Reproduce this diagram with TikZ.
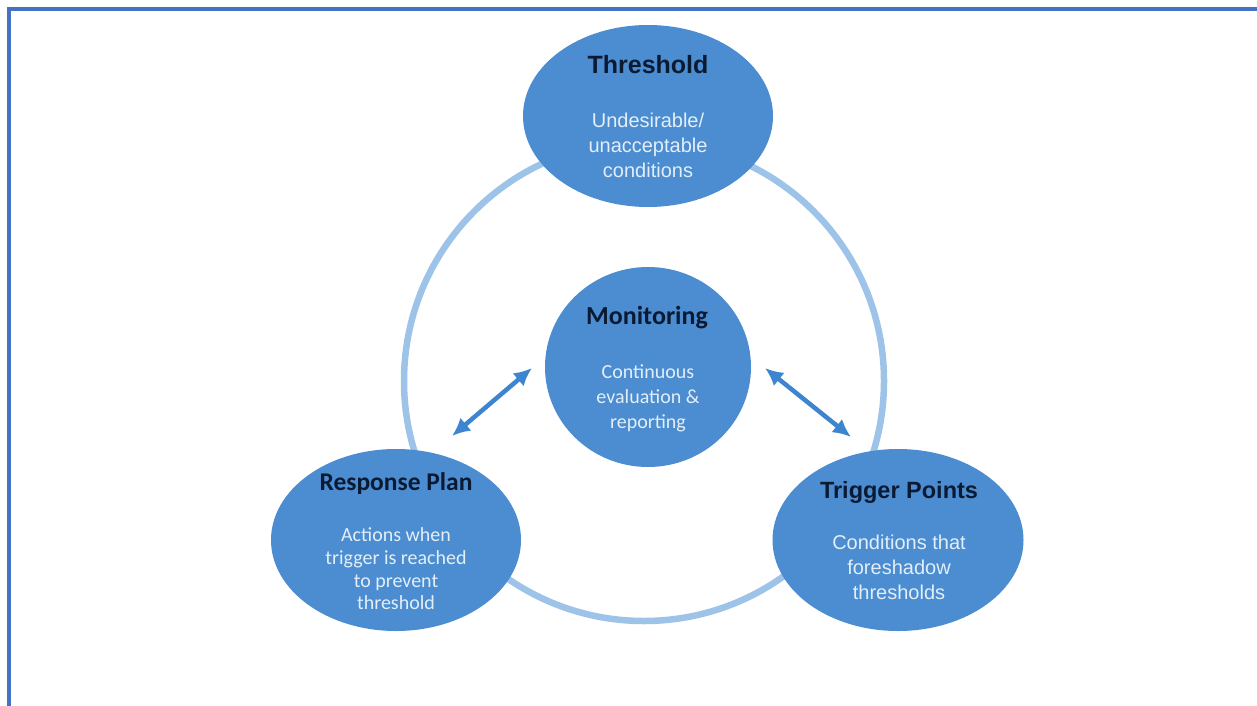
\documentclass[tikz,border=0pt]{standalone}
\usepackage{fontspec}
\setmainfont{Liberation Sans}
\newfontfamily\arialfont{Liberation Sans}
\newfontfamily\calfont{Carlito}
\usetikzlibrary{shapes.geometric,arrows.meta}

\definecolor{framecol}{HTML}{4472C4}
\definecolor{nodefill}{HTML}{4B8DD0}
\definecolor{ringcol}{HTML}{9DC3E8}
\definecolor{arrowcol}{HTML}{3D85CF}
\definecolor{titlecol}{HTML}{0B1A33}
\definecolor{bodycol}{HTML}{E3EEF9}

\begin{document}
\begin{tikzpicture}[x=1pt,y=-1pt,
  bubble/.style={ellipse, fill=nodefill, inner sep=0pt},
  ring/.style={draw=ringcol, line width=6.5pt},
  link/.style={draw=arrowcol, line width=4.5pt,
    {Latex[length=18pt,width=17pt]}-{Latex[length=18pt,width=17pt]}},
  ttlA/.style={text=titlecol, inner sep=0pt, align=center},
  bodyA/.style={text=bodycol, inner sep=0pt, align=center}
]
\useasboundingbox (0,0) rectangle (1257,706);
\fill[white] (0,0) rectangle (1257,706);

% frame along the top and left
\draw[framecol, line width=3.2pt] (9,706) -- (9,9) -- (1257,9);

% the cycle ring behind the three outer bubbles
\coordinate (ringc) at (644,381);
\draw[ring] (ringc) circle[radius=240];

% bubbles
\node[bubble, minimum width=250pt, minimum height=182pt] (thr) at (648,116) {};
\node[bubble, minimum width=206pt, minimum height=200pt] (mon) at (648,367) {};
\node[bubble, minimum width=250pt, minimum height=182pt] (rsp) at (396,540) {};
\node[bubble, minimum width=251pt, minimum height=182pt] (trg) at (898,540) {};

% Threshold
\node[ttlA, font=\arialfont\bfseries\fontsize{25}{30}\selectfont] (thr-t) at (648,65) {Threshold};
\node[bodyA, font=\arialfont\fontsize{20}{25}\selectfont] (thr-b) at (648,145)
  {Undesirable/\\unacceptable\\conditions};

% Monitoring
\node[ttlA, font=\calfont\bfseries\fontsize{26}{30}\selectfont] (mon-t) at (647,318) {Monitoring};
\node[bodyA, font=\calfont\fontsize{20}{25}\selectfont] (mon-b) at (648,398)
  {Continuous\\evaluation \&\\reporting};

% Response Plan
\node[ttlA, font=\calfont\bfseries\fontsize{25.5}{30}\selectfont] (rsp-t) at (396,484) {Response Plan};
\node[bodyA, font=\calfont\fontsize{20}{22.7}\selectfont] (rsp-b) at (396,569)
  {Actions when\\trigger is reached\\to prevent\\threshold};

% Trigger Points
\node[ttlA, font=\arialfont\bfseries\fontsize{23.5}{30}\selectfont] (trg-t) at (899,492) {Trigger Points};
\node[bodyA, font=\arialfont\fontsize{20}{25}\selectfont] (trg-b) at (899,567)
  {Conditions that\\foreshadow\\thresholds};

% two-way arrows between monitoring and the lower bubbles
\coordinate (la1) at (532,368);
\coordinate (la2) at (452,436);
\coordinate (ra1) at (765,368);
\coordinate (ra2) at (851,437);
\draw[link] (la1) -- (la2);
\draw[link] (ra1) -- (ra2);
\end{tikzpicture}
\end{document}
